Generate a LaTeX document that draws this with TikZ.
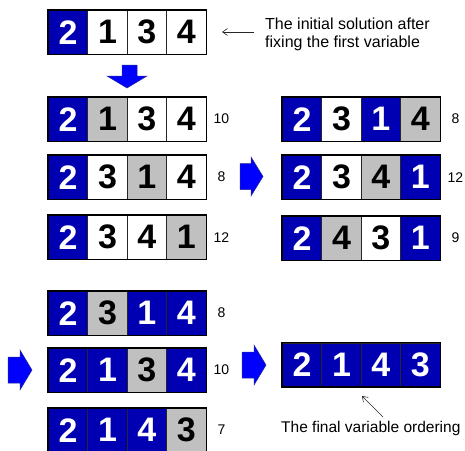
\documentclass[tikz,border=0pt]{standalone}
\usepackage{fontspec}
\setmainfont{Liberation Sans}
\usetikzlibrary{arrows.meta}

\definecolor{cellblue}{RGB}{0,0,178}
\definecolor{cellgray}{RGB}{192,192,192}
\definecolor{arrowblue}{RGB}{0,0,255}
\definecolor{arrowedge}{RGB}{40,40,150}

\tikzset{
  cell/.style={draw=black!85, line width=0.8pt, minimum width=39.4pt,
    minimum height=43.5pt, inner sep=0pt, anchor=north west,
    font=\fontsize{34}{34}\selectfont\bfseries},
  B/.style={fill=cellblue, text=white},
  W/.style={fill=white, text=black},
  G/.style={fill=cellgray, text=black},
  rowframe/.style={draw=black, line width=1.5pt},
  cost/.style={font=\fontsize{14}{14}\selectfont, anchor=center},
  note/.style={font=\fontsize{16}{18}\selectfont, align=left, inner sep=0pt},
  blockarrow/.style={fill=arrowblue, draw=arrowedge, line width=0.5pt, line join=miter},
  pointer/.style={draw=black!85, line width=0.6pt, -{Straight Barb[length=5pt,width=7pt]}}
}

% one ordering: name, left x, top y, list of style/digit
\newcommand\permrow[4]{%
  \foreach [count=\i] \s/\d in {#4} {
    \node[cell,\s] (#1-\i) at ({#2+(\i-1)*39.4},#3) {\d};
  }
  \draw[rowframe] (#1-1.north west) rectangle (#1-4.south east);
}

\begin{document}
\begin{tikzpicture}[x=1pt,y=-1pt]
\useasboundingbox (0,0) rectangle (465,450);

% initial solution
\permrow{init}{48}{10}{B/2,W/1,W/3,W/4}
\node[note, anchor=north west] (initnote) at (265,18)
  {The initial solution after\\fixing the first variable};
\coordinate (initfrom) at (254,32);
\draw[pointer] (initfrom) -- (222,32);

% down arrow
\filldraw[blockarrow] (122,65) -- (137,65) -- (137,76) -- (147,76) -- (127,88)
  -- (107,76) -- (122,76) -- cycle;

% first pass, left column
\permrow{a}{48}{97}{B/2,G/1,W/3,W/4}
\node[cost] (ca) at ([xshift=15pt]a-4.east) {10};
\permrow{b}{48}{155}{B/2,W/3,G/1,W/4}
\node[cost] (cb) at ([xshift=15pt]b-4.east) {8};
\permrow{c}{48}{215}{B/2,W/3,W/4,G/1}
\node[cost] (cc) at ([xshift=15pt]c-4.east) {12};

% right arrow to second pass
\filldraw[blockarrow] (240,163.5) -- (251,163.5) -- (251,157) -- (263,176.5)
  -- (251,196) -- (251,189.5) -- (240,189.5) -- cycle;

% second pass, right column
\permrow{d}{282}{97}{B/2,W/3,B/1,G/4}
\node[cost] (cd) at ([xshift=15pt]d-4.east) {8};
\permrow{e}{282}{155}{B/2,W/3,G/4,B/1}
\node[cost] (ce) at ([xshift=15pt]e-4.east) {12};
\permrow{f}{282}{216}{B/2,G/4,W/3,B/1}
\node[cost] (cf) at ([xshift=15pt]f-4.east) {9};

% third pass
\permrow{g}{48}{291}{B/2,G/3,B/1,B/4}
\node[cost] (cg) at ([xshift=15pt]g-4.east) {8};
\permrow{h}{48}{348}{B/2,B/1,G/3,B/4}
\node[cost] (ch) at ([xshift=15pt]h-4.east) {10};
\permrow{k}{48}{408}{B/2,B/1,B/4,G/3}
\node[cost] (ck) at ([xshift=15pt]k-4.east) {7};

% left arrow at the third pass
\filldraw[blockarrow] (8,357) -- (20,357) -- (20,350) -- (32,370)
  -- (20,390) -- (20,383) -- (8,383) -- cycle;

% arrow to the final ordering
\filldraw[blockarrow] (242,352) -- (254,352) -- (254,345) -- (266,365)
  -- (254,385) -- (254,378) -- (242,378) -- cycle;

% final ordering
\permrow{fin}{282}{342.5}{B/2,B/1,B/4,B/3}
\node[note, font=\fontsize{15.5}{18}\selectfont, anchor=base west] (finnote)
  at (281,432.7) {The final variable ordering};
\coordinate (finfrom) at (383,417);
\draw[pointer] (finfrom) -- (362,396);
\end{tikzpicture}
\end{document}
